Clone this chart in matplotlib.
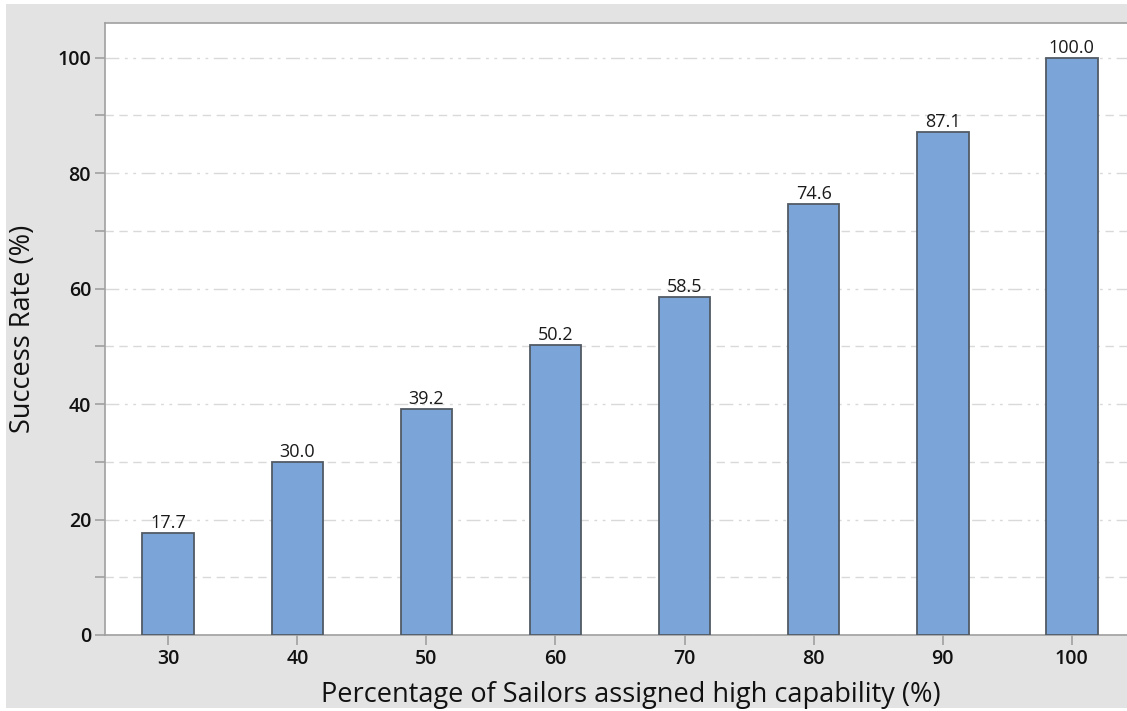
import matplotlib
matplotlib.use("Agg")
import matplotlib.pyplot as plt
from matplotlib.ticker import MultipleLocator
import numpy as np

# Success rate by share of sailors assigned high capability
categories = ["30", "40", "50", "60", "70", "80", "90", "100"]
success_rate = [17.7, 30.0, 39.2, 50.2, 58.5, 74.6, 87.1, 100.0]
bar_labels = ["17.7", "30.0", "39.2", "50.2", "58.5", "74.6", "87.1", "100.0"]

plt.rcParams["font.family"] = ["Open Sans", "DejaVu Sans"]

W, H = 1127, 711
fig = plt.figure(figsize=(W / 100, H / 100), dpi=100)
fig.patch.set_facecolor("white")

# gray panel behind the chart
panel = plt.Rectangle((6 / W, 1 - 708 / H), (W - 6) / W, (708 - 4) / H,
                      transform=fig.transFigure, facecolor="#e3e3e3",
                      edgecolor="none", zorder=-10)
fig.patches.append(panel)

# the plotting area runs past the right edge of the canvas
right_px = 1157
ax = fig.add_axes([105 / W, 1 - 635 / H, (right_px - 105) / W, (635 - 23) / H])
ax.set_facecolor("white")

x = np.arange(len(categories))
ax.bar(x, success_rate, width=0.4, color="#7ba5d8", edgecolor="#525a64",
       linewidth=1.3, zorder=3)

for xi, v, lab in zip(x, success_rate, bar_labels):
    ax.text(xi, v + 0.15, lab, ha="center", va="bottom", fontsize=13,
            color="#1a1a1a", zorder=4)

ax.set_xlim(-0.49, 7.66)
ax.set_ylim(0, 106)
ax.set_xticks(x)
ax.set_xticklabels(categories)
ax.yaxis.set_major_locator(MultipleLocator(20))
ax.yaxis.set_minor_locator(MultipleLocator(10))

ax.grid(axis="y", which="major", color="#d9d9d9", linestyle=(0, (10, 4, 2, 4, 2, 4)),
        linewidth=1.0, zorder=0)
ax.grid(axis="y", which="minor", color="#d9d9d9", linestyle=(0, (6, 4)),
        linewidth=1.0, zorder=0)

ax.spines["right"].set_visible(False)
for side in ["left", "bottom", "top"]:
    ax.spines[side].set_color("#a0a0a0")
    ax.spines[side].set_linewidth(1.2)

ax.tick_params(axis="both", which="both", colors="#a0a0a0", labelcolor="#111111",
               direction="out")
ax.tick_params(axis="both", which="major", length=7, width=1.2, labelsize=14, pad=3)
ax.tick_params(axis="y", which="minor", length=7, width=1.2)
for lab in ax.get_xticklabels() + ax.get_yticklabels():
    lab.set_fontweight("semibold")

ax.set_xlabel("Percentage of Sailors assigned high capability (%)", fontsize=19.5,
              color="#111111", labelpad=9)
ax.set_ylabel("Success Rate (%)", fontsize=19.5, color="#111111", labelpad=15)

fig.savefig("out.png", dpi=100, facecolor=fig.get_facecolor())
